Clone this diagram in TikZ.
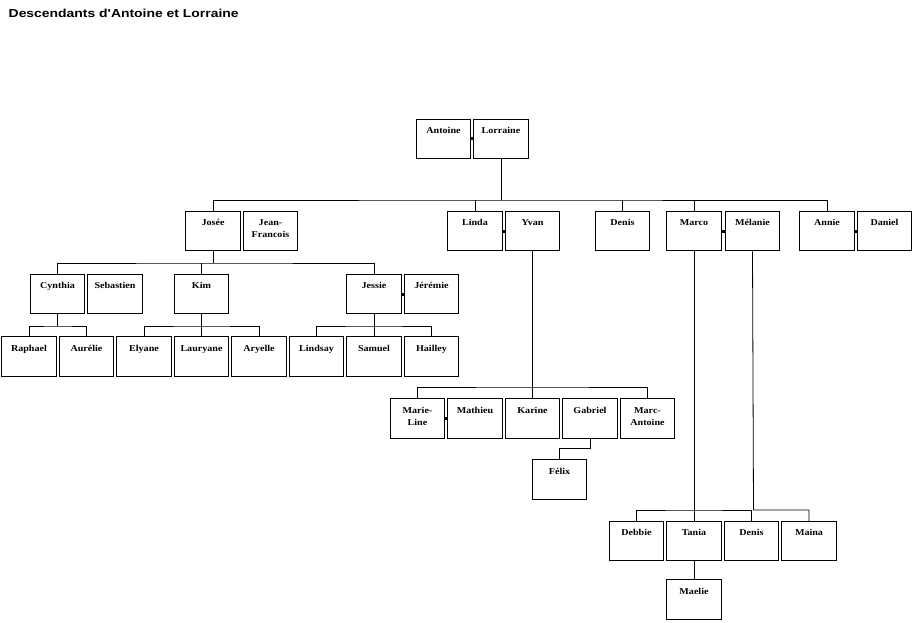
\documentclass[tikz,border=0pt]{standalone}
\usepackage{fontspec}
\setmainfont{Liberation Serif}[FakeStretch=1.12]
\newfontfamily\titlefont{Liberation Sans}[FakeStretch=1.2]
\usetikzlibrary{positioning}

\begin{document}
\begin{tikzpicture}[x=1pt,y=-1pt,node distance=2pt]

                \tikzset{person/.style={draw, line width=1pt, minimum width=54.5pt, minimum height=39.5pt, inner sep=0pt,
                    label={[anchor=north, yshift=-7pt, inner sep=0pt, align=center, font=\fontsize{9}{12}\selectfont\bfseries]north:\vphantom{É}#1}},
                  link/.style={line width=0.8pt},
                  couple/.style={line width=3pt}}

                \useasboundingbox (0,0) rectangle (913,623);

                \node[anchor=base west, inner sep=0pt, font=\titlefont\bfseries\fontsize{11.6}{14}\selectfont] (title) at (8.5,17.3) {Descendants d'Antoine et Lorraine};

                \node[person=Antoine] (antoine) at (443.5,139) {};
                \node[person=Lorraine, right=of antoine] (lorraine) {};

                \node[person=Josée] (josee) at (213,231) {};
                \node[person={Jean-\\Francois}, right=of josee] (jeanfrancois) {};
                \node[person=Linda] (linda) at (475,231) {};
                \node[person=Yvan, right=of linda] (yvan) {};
                \node[person=Denis] (denis) at (622.5,231) {};
                \node[person=Marco] (marco) at (694,231) {};
                \node[person=Mélanie, right=3pt of marco] (melanie) {};
                \node[person=Annie] (annie) at (827,231) {};
                \node[person=Daniel, right=of annie] (daniel) {};

                \node[person=Cynthia] (cynthia) at (57.5,294) {};
                \node[person=Sebastien, right=of cynthia] (sebastien) {};
                \node[person=Kim] (kim) at (201.5,294) {};
                \node[person=Jessie] (jessie) at (374,294) {};
                \node[person=Jérémie, right=of jessie] (jeremie) {};

                \node[person=Raphael] (raphael) at (29,356.5) {};
                \node[person=Aurélie, right=of raphael] (aurelie) {};
                \node[person=Elyane, right=of aurelie] (elyane) {};
                \node[person=Lauryane, right=of elyane] (lauryane) {};
                \node[person=Aryelle, right=of lauryane] (aryelle) {};
                \node[person=Lindsay, right=of aryelle] (lindsay) {};
                \node[person=Samuel, right=of lindsay] (samuel) {};
                \node[person=Hailley, right=of samuel] (hailley) {};

                \node[person={Marie-\\Line}] (marieline) at (417.5,418.5) {};
                \node[person=Mathieu, right=of marieline] (mathieu) {};
                \node[person=Karine, right=of mathieu] (karine) {};
                \node[person=Gabriel, right=of karine] (gabriel) {};
                \node[person={Marc-\\Antoine}, right=of gabriel] (marcantoine) {};
                \node[person=Félix] (felix) at (559.5,479.5) {};

                \node[person=Debbie] (debbie) at (636.5,541) {};
                \node[person=Tania, right=of debbie] (tania) {};
                \node[person=Denis, right=of tania] (denis2) {};
                \node[person=Maina, right=of denis2] (maina) {};
                \node[person=Maelie] (maelie) at (694,599.5) {};

                \coordinate (bar0) at (501,200);
                \coordinate (bar1) at (213,263);
                \coordinate (bar2) at (57.5,326);
                \coordinate (bar3) at (201.5,326);
                \coordinate (bar4) at (374,326);
                \coordinate (bar5) at (532.5,387);
                \coordinate (bar6) at (694,510);
                \coordinate (bar7) at (753.5,510);
                \coordinate (bar8) at (590,448);

                \draw[link] (lorraine.south) -- (bar0);
                \draw[link] (josee.north) |- (bar0) -| (annie.north);
                \foreach \c in {linda,denis,marco}
                    \draw[link] (\c.north) -- (\c.north |- bar0);
                \draw[link] (josee.south) -- (bar1);
                \draw[link] (cynthia.north) |- (bar1) -| (jessie.north);
                \draw[link] (kim.north) -- (kim.north |- bar1);
                \draw[link] (cynthia.south) -- (bar2);
                \draw[link] (raphael.north) |- (bar2) -| (aurelie.north);
                \draw[link] (kim.south) -- (lauryane.north);
                \draw[link] (elyane.north) |- (bar3) -| (aryelle.north);
                \draw[link] (jessie.south) -- (samuel.north);
                \draw[link] (lindsay.north) |- (bar4) -| (hailley.north);
                \draw[link] (yvan.south) -- (karine.north);
                \draw[link] (marieline.north) |- (bar5) -| (marcantoine.north);
                \draw[link] (gabriel.south) -- (bar8) -| (felix.north);
                \draw[link] (marco.south) -- (tania.north);
                \draw[link] (debbie.north) |- (bar6) -| (denis2.north);
                \draw[link] (melanie.south) -- (bar7) -| (maina.north);
                \draw[link] (tania.south) -- (maelie.north);

                \foreach \a/\b in {antoine/lorraine, linda/yvan, marco/melanie, annie/daniel, jessie/jeremie, marieline/mathieu}
                    \draw[couple] (\a.east) -- (\b.west);
            \end{tikzpicture}
\end{document}
